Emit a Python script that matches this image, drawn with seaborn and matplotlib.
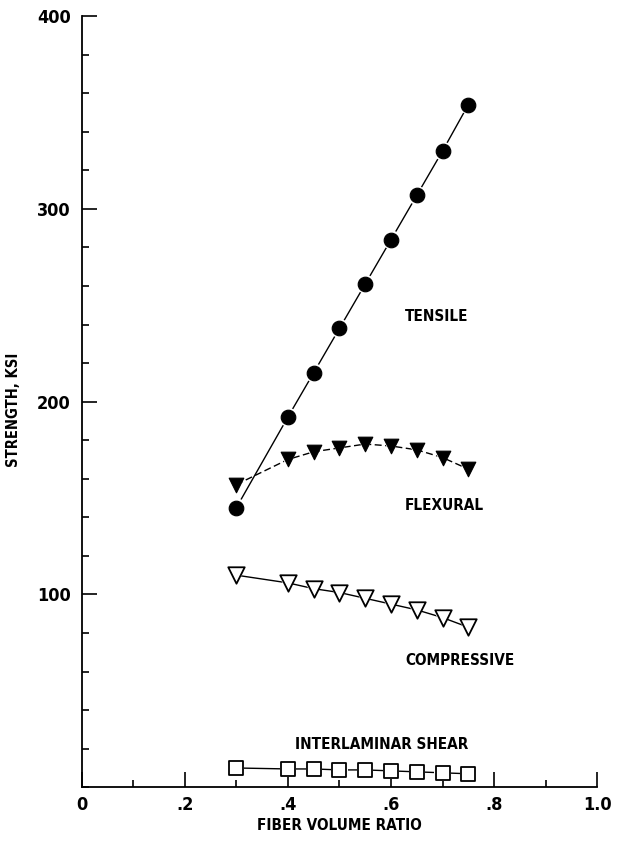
import seaborn as sns
import matplotlib.pyplot as plt
import pandas as pd
from matplotlib.ticker import MultipleLocator, FixedLocator

# Values
fiber_ratio = [0.30, 0.40, 0.45, 0.50, 0.55, 0.60, 0.65, 0.70, 0.75]
tensile = [145, 192, 215, 238, 261, 284, 307, 330, 354]
flexural = [157, 170, 174, 176, 178, 177, 175, 171, 165]
compressive = [110, 106, 103, 101, 98, 95, 92, 88, 83]
shear = [10, 9.5, 9.5, 9, 9, 8.5, 8, 7.5, 7]

x_ticks = [0, 0.2, 0.4, 0.6, 0.8, 1.0]
x_tick_labels = ['0', '.2', '.4', '.6', '.8', '1.0']
y_ticks = [100, 200, 300, 400]

df = pd.DataFrame({
    'ratio': fiber_ratio,
    'Tensile': tensile,
    'Flexural': flexural,
    'Compressive': compressive,
    'Shear': shear,
})

sns.set_style('ticks')
plt.rcParams['font.family'] = ['DejaVu Sans']
plt.rcParams['font.stretch'] = 'condensed'
plt.rcParams['font.weight'] = 'bold'
plt.rcParams['axes.labelweight'] = 'bold'
plt.rcParams['text.color'] = 'black'
plt.rcParams['axes.labelcolor'] = 'black'
plt.rcParams['xtick.color'] = 'black'
plt.rcParams['ytick.color'] = 'black'

fig = plt.figure(figsize=(6.24, 8.42), dpi=100)
ax = fig.add_axes([0.131, 0.065, 0.826, 0.916])

lw = 1.0
# connecting lines
sns.lineplot(data=df, x='ratio', y='Tensile', ax=ax, color='black', lw=lw)
sns.lineplot(data=df, x='ratio', y='Flexural', ax=ax, color='black', lw=lw,
             dashes=False, linestyle=(0, (5, 2.5)))
sns.lineplot(data=df, x='ratio', y='Compressive', ax=ax, color='black', lw=lw)
sns.lineplot(data=df, x='ratio', y='Shear', ax=ax, color='black', lw=lw)

# white halos so the lines stop short of the markers
for col, mk, size in [('Tensile', 'o', 110), ('Flexural', 'v', 110),
                      ('Compressive', 'v', 140), ('Shear', 's', 80)]:
    sns.scatterplot(data=df, x='ratio', y=col, ax=ax, marker=mk, s=size * 1.7,
                    color='white', edgecolor='none', zorder=3)

sns.scatterplot(data=df, x='ratio', y='Tensile', ax=ax, marker='o', s=110,
                color='black', edgecolor='black', zorder=4)
sns.scatterplot(data=df, x='ratio', y='Flexural', ax=ax, marker='v', s=110,
                color='black', edgecolor='black', zorder=4)
sns.scatterplot(data=df, x='ratio', y='Compressive', ax=ax, marker='v', s=140,
                facecolor='white', edgecolor='black', linewidth=1.3, zorder=4)
sns.scatterplot(data=df, x='ratio', y='Shear', ax=ax, marker='s', s=100,
                facecolor='white', edgecolor='black', linewidth=1.3, zorder=4)

# curve labels
lab = dict(fontsize=11, va='center', ha='left')
ax.text(0.627, 244, 'TENSILE', **lab)
ax.text(0.627, 146, 'FLEXURAL', **lab)
ax.text(0.627, 66, 'COMPRESSIVE', **lab)
ax.text(0.414, 22, 'INTERLAMINAR SHEAR', **lab)

ax.set_xlim(0, 1.0)
ax.set_ylim(0, 400)
ax.xaxis.set_major_locator(FixedLocator(x_ticks))
ax.set_xticklabels(x_tick_labels)
ax.xaxis.set_minor_locator(MultipleLocator(0.1))
ax.yaxis.set_major_locator(FixedLocator(y_ticks))
ax.yaxis.set_minor_locator(MultipleLocator(20))

ax.tick_params(axis='both', which='major', direction='in', length=11,
               width=1.2, labelsize=13, pad=8)
ax.tick_params(axis='both', which='minor', direction='in', length=5, width=1.2)
ax.tick_params(axis='x', which='major', pad=6)

sns.despine(ax=ax)
ax.spines['left'].set_linewidth(1.3)
ax.spines['bottom'].set_linewidth(1.3)
ax.spines['left'].set_color('black')
ax.spines['bottom'].set_color('black')

ax.set_xlabel('FIBER VOLUME RATIO', fontsize=11, labelpad=3)
ax.set_ylabel('STRENGTH, KSI', fontsize=10.5)
ax.yaxis.set_label_coords(-0.117, 0.49)
# put the x "0" label slightly left, as in the original
ax.get_xticklabels()[0].set_x(-0.02)

plt.savefig('out.png', dpi=100, facecolor='white')
plt.close()
